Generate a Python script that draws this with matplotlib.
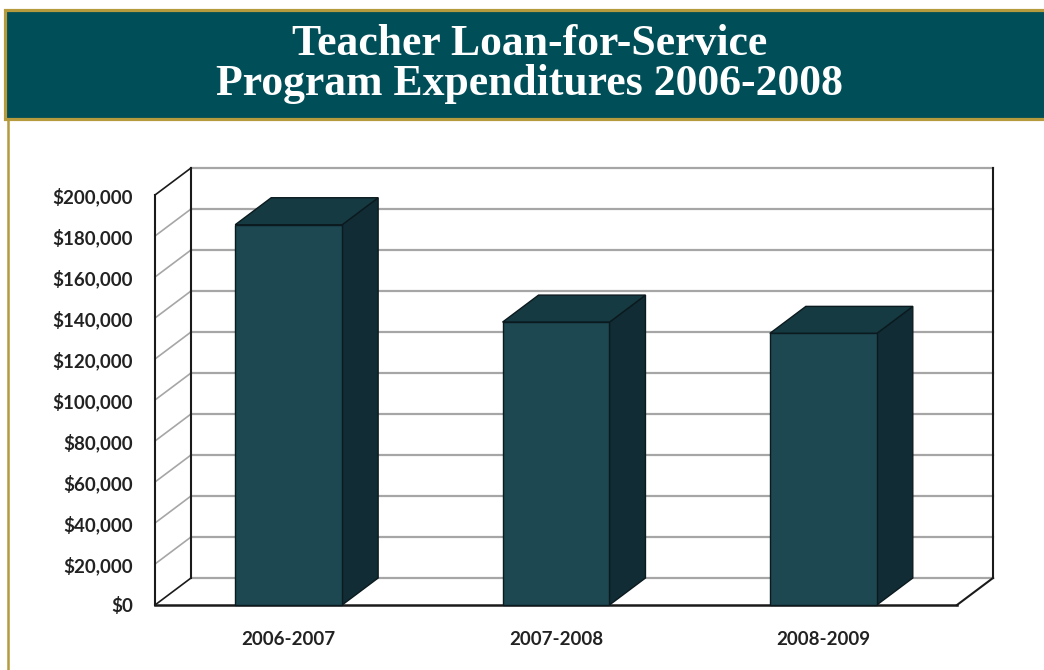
import matplotlib
matplotlib.use("Agg")
import matplotlib.pyplot as plt
from matplotlib.patches import Polygon, Rectangle
from matplotlib.lines import Line2D
from matplotlib.ticker import FuncFormatter

# data
years = ["2006-2007", "2007-2008", "2008-2009"]
spending = [185500, 138000, 132500]
y_ticks = [0, 20000, 40000, 60000, 80000, 100000, 120000, 140000, 160000, 180000, 200000]
title_lines = ["Teacher Loan-for-Service", "Program Expenditures 2006-2008"]

W, H = 1044, 670
fig = plt.figure(figsize=(W / 100, H / 100), dpi=100)

# header band
teal = "#004e58"
gold = "#b59a3e"
fig.patches.append(Rectangle((5 / W, 1 - 119 / H), 1.05, 109 / H, transform=fig.transFigure,
                             facecolor=teal, edgecolor=gold, linewidth=2.3))
fig.lines.append(Line2D([8 / W, 8 / W], [0, 1 - 120 / H], transform=fig.transFigure,
                        color=gold, linewidth=1.8))
fig.text(530 / W, 1 - 44 / H, title_lines[0], ha="center", va="center", color="white",
         fontsize=31.5, fontweight="bold", family="Liberation Serif")
fig.text(530 / W, 1 - 84 / H, title_lines[1], ha="center", va="center", color="white",
         fontsize=31.5, fontweight="bold", family="Liberation Serif")

# front plane of the 3d box
ax = fig.add_axes([155 / W, 65 / H, 802 / W, 410 / H])
ax.set_xlim(-0.5, 2.5)
ax.set_ylim(0, 200000)
for s in ax.spines.values():
    s.set_visible(False)
ax.patch.set_visible(False)

# depth offset in data units (36px right, 27px up)
DX = 36 / (802 / 3)
DY = 27 / (410 / 200000)
x0, x1 = -0.5, 2.5
grid_c = "#a6a6a6"
edge_c = "#1a1a1a"

for v in y_ticks:
    ax.plot([x0 + DX, x1 + DX], [v + DY, v + DY], color=grid_c, lw=1.6, clip_on=False, zorder=1)
    ax.plot([x0, x0 + DX], [v, v + DY], color=grid_c if v not in (0, 200000) else edge_c,
            lw=1.2, clip_on=False, zorder=1)

# box edges
ax.plot([x0, x0], [0, 200000], color=edge_c, lw=1.5, clip_on=False, zorder=2)
ax.plot([x0 + DX, x0 + DX], [DY, 200000 + DY], color=edge_c, lw=1.5, clip_on=False, zorder=2)
ax.plot([x1 + DX, x1 + DX], [DY, 200000 + DY], color=edge_c, lw=1.5, clip_on=False, zorder=2)
ax.plot([x0, x1], [0, 0], color=edge_c, lw=1.8, clip_on=False, zorder=2)
ax.plot([x1, x1 + DX], [0, DY], color=edge_c, lw=1.5, clip_on=False, zorder=2)

# 3d columns
bw = 0.40
front_c = "#1d4852"
side_c = "#112c34"
top_c = "#163a41"
bar_edge = "#0b1a1f"
for i, v in enumerate(spending):
    a, b = i - bw / 2, i + bw / 2
    side = Polygon([(b, 0), (b + DX, DY), (b + DX, v + DY), (b, v)], closed=True,
                   facecolor=side_c, edgecolor=bar_edge, lw=1.0, clip_on=False, zorder=3)
    top = Polygon([(a, v), (b, v), (b + DX, v + DY), (a + DX, v + DY)], closed=True,
                  facecolor=top_c, edgecolor=bar_edge, lw=1.0, clip_on=False, zorder=3)
    ax.add_patch(side)
    ax.add_patch(top)
    ax.bar(i, v, width=bw, color=front_c, edgecolor=bar_edge, linewidth=1.0, zorder=4, clip_on=False)

ax.set_yticks(y_ticks)
ax.yaxis.set_major_formatter(FuncFormatter(lambda v, p: "${:,.0f}".format(v)))
ax.set_xticks(range(len(years)))
ax.set_xticklabels(years)
ax.tick_params(axis="y", length=0, pad=16)
ax.tick_params(axis="x", length=0, pad=19)
for lab in ax.get_yticklabels() + ax.get_xticklabels():
    lab.set_fontfamily("Lato")
    lab.set_fontweight("bold")
    lab.set_fontsize(13.5)
    lab.set_color("#222222")

fig.savefig("out.png", dpi=100)
